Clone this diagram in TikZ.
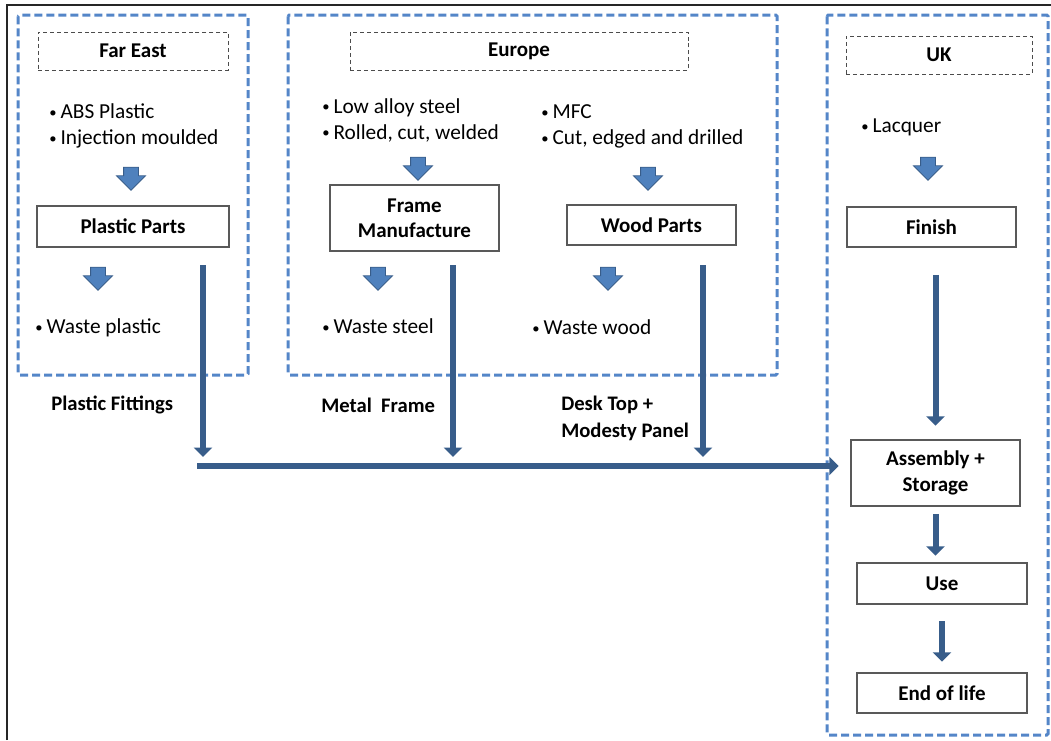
\documentclass[tikz,border=0pt]{standalone}
\usepackage{fontspec}
\setmainfont{Carlito}
\usepackage{tikz}
\usetikzlibrary{
    positioning,
    arrows.meta,
    shapes.arrows
}
\definecolor{regionblue}{RGB}{84,134,200}
\definecolor{flowblue}{RGB}{56,93,138}
\definecolor{arrowfill}{RGB}{79,129,189}
\definecolor{boxgray}{RGB}{89,89,89}
% smaller list bullet
\newcommand{\bul}{{\fontsize{11}{11}\selectfont\raisebox{0.8pt}{•}}\hspace{3pt}}
\tikzset{
    % region frames (Far East / Europe / UK)
    region/.style={
        draw=regionblue,
        line width=2.25pt,
        dash pattern=on 6pt off 3pt,
        rounded corners=1pt
    },
    % region titles, thin dashed
    regiontitle/.style={
        draw=black!70,
        line width=0.6pt,
        dash pattern=on 3pt off 2.2pt,
        inner sep=0pt,
        font=\bfseries\fontsize{15.75}{18}\selectfont
    },
    % process blocks
    process/.style={
        rectangle,
        draw=boxgray,
        line width=1.9pt,
        fill=white,
        align=center,
        inner sep=0pt,
        font=\bfseries\fontsize{15.75}{19}\selectfont
    },
    % bullet notes
    note/.style={
        align=left,
        anchor=west,
        inner sep=0pt,
        font=\fontsize{16}{19.5}\selectfont
    },
    % labels of the flows
    flowlabel/.style={
        align=left,
        anchor=west,
        inner sep=0pt,
        font=\bfseries\fontsize{15.5}{20.25}\selectfont
    },
    % small fat arrows (shaft = 2 x inner xsep)
    blockarrow/.style={
        single arrow,
        shape border rotate=270,
        draw=flowblue,
        fill=arrowfill,
        line width=0.6pt,
        inner xsep=5.25pt,
        inner ysep=0pt,
        minimum height=17.25pt,
        single arrow head extend=5.25pt
    },
    % long flow arrows
    flow/.style={
        -{Triangle[length=7pt, width=13.5pt]},
        draw=flowblue,
        line width=4.5pt
    }
}

\begin{document}
\begin{tikzpicture}[x=0.75pt, y=-0.75pt]
    \useasboundingbox (0,0) rectangle (1051,740);
    % outer frame (top and left only)
    \draw[line width=1.5pt, black!85] (7,740) -- (7,5) -- (1051,5);

    % Regions
    \draw[region] (18,15) rectangle (248,375);
    \draw[region] (288,15) rectangle (777,375);
    \draw[region] (827,15) rectangle (1048,735);

    \node[regiontitle, minimum width=142.5pt, minimum height=28.5pt] (fareast) at (133,51) {Far East};
    \node[regiontitle, minimum width=253.5pt, minimum height=28.5pt] (europe) at (519,51) {Europe};
    \node[regiontitle, minimum width=139.5pt, minimum height=28.5pt] (uk) at (939,55) {UK};

    % Notes
    \node[note] (abs) at (49,126) {\bul ABS Plastic\\\bul Injection moulded};
    \node[note] (steel) at (322,120) {\bul Low alloy steel\\\bul Rolled, cut, welded};
    \node[note] (mfc) at (541,126) {\bul MFC\\\bul Cut, edged and drilled};
    \node[note] (lacq) at (861,127.5) {\bul Lacquer};
    \node[note] (wplastic) at (35,327.5) {\bul Waste plastic};
    \node[note] (wsteel) at (322,326.5) {\bul Waste steel};
    \node[note] (wwood) at (532,327.5) {\bul Waste wood};

    % Process blocks
    \node[process, minimum width=144pt, minimum height=30.75pt] (pp) at (133,226.5) {Plastic Parts};
    \node[process, minimum width=126.75pt, minimum height=49.5pt] (fm) at (414.5,218) {Frame\\Manufacture};
    \node[process, minimum width=126.75pt, minimum height=30pt] (wp) at (651.5,225) {Wood Parts};
    \node[process, minimum width=126.75pt, minimum height=30pt] (fin) at (931.5,227) {Finish};
    \node[process, minimum width=126.75pt, minimum height=49.5pt] (asm) at (935.5,473) {Assembly +\\Storage};
    \node[process, minimum width=127.5pt, minimum height=30.75pt] (use) at (942,583.5) {Use};
    \node[process, minimum width=127.5pt, minimum height=30pt] (eol) at (942,693) {End of life};

    % Small arrows
    \node[blockarrow] (ba1) at (131,175) {};
    \node[blockarrow] (ba2) at (98,275) {};
    \node[blockarrow] (ba3) at (418,165) {};
    \node[blockarrow] (ba4) at (648,175) {};
    \node[blockarrow] (ba5) at (378,275) {};
    \node[blockarrow] (ba6) at (608,275) {};
    \node[blockarrow] (ba7) at (928,165) {};

    % Flow labels
    \node[flowlabel] (pfl) at (51,405) {Plastic Fittings};
    \node[flowlabel] (mfl) at (321,405) {Metal\ \ Frame};
    \node[flowlabel] (dtl) at (561,418.5) {Desk Top +\\Modesty Panel};

    % Flows into assembly
    \coordinate (pfend) at (203,457);
    \coordinate (mfend) at (453,457);
    \coordinate (dtend) at (703,457);
    \coordinate (bus) at (197,466);

    \draw[flow, shorten <=12.75pt] (pp.south -| pfend) -- (pfend);
    \draw[flow, shorten <=9.75pt] (fm.south -| mfend) -- (mfend);
    \draw[flow, shorten <=14.25pt] (wp.south -| dtend) -- (dtend);
    \draw[flow, line width=5pt, shorten >=8.25pt] (bus) -- (bus -| asm.west);

    % UK chain
    \draw[flow, shorten <=20pt, shorten >=9.75pt] (asm.north |- fin.south) -- (asm.north);
    \draw[flow, shorten <=5pt, shorten >=4.5pt] (asm.south) -- (asm.south |- use.north);
    \draw[flow, shorten <=12pt, shorten >=7.5pt] (use.south) -- (eol.north);

\end{tikzpicture}
\end{document}
